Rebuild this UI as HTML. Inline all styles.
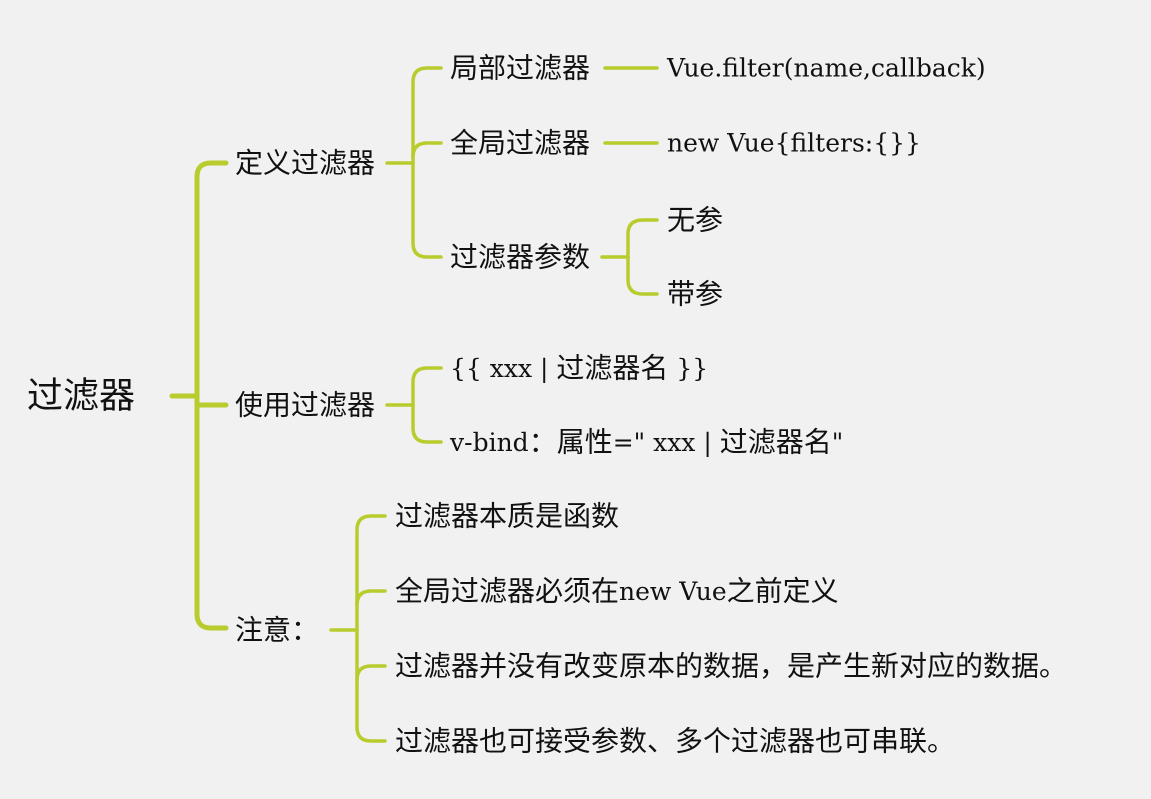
<!DOCTYPE html>
<html><head><meta charset="utf-8"><style>
html,body{margin:0;padding:0;background:#f1f1f1;}
svg{display:block}
text{font-family:"DejaVu Serif","Noto Sans CJK SC",serif;fill:#111;dominant-baseline:central;font-size:28px}
.l{font-size:25px}
</style></head><body>
<svg width="1151" height="799" viewBox="0 0 1151 799" xmlns="http://www.w3.org/2000/svg">
<g fill="none" stroke="#b9cc2e" stroke-linecap="round">
<g stroke-width="5">
<path d="M172 396 H197"/>
<path d="M226 163 H211 Q197 163 197 177 V614 Q197 628 211 628 H226"/>
<path d="M197 405 H226"/>
</g>
<g stroke-width="3.5">
<path d="M387 163 H413"/>
<path d="M441 68 H427 Q413 68 413 82 V243 Q413 257 427 257 H441"/>
<path d="M413 157 Q413 143 427 143 H441"/>
<path d="M605 68 H657"/><path d="M605 143 H657"/>
<path d="M602 257 H628"/>
<path d="M657 220 H643 Q628 220 628 234 V280 Q628 294 643 294 H657"/>
<path d="M387 405 H413"/>
<path d="M441 368 H427 Q413 368 413 382 V428 Q413 442 427 442 H441"/>
<path d="M331 630 H357"/>
<path d="M385 516 H371 Q357 516 357 530 V727 Q357 741 371 741 H385"/>
<path d="M357 605 Q357 591 371 591 H385"/>
<path d="M357 680 Q357 666 371 666 H385"/>
</g>
</g>
<text x="27" y="396" style="font-size:36px">过滤器</text>
<text x="235" y="163">定义过滤器</text>
<text x="235" y="405">使用过滤器</text>
<text x="235" y="630">注意：</text>
<text x="450" y="68">局部过滤器</text>
<text x="450" y="143">全局过滤器</text>
<text x="450" y="257">过滤器参数</text>
<text x="667" y="68" class="l">Vue.filter(name,callback)</text>
<text x="667" y="143" class="l">new Vue{filters:{}}</text>
<text x="667" y="220">无参</text>
<text x="667" y="294">带参</text>
<text x="450" y="368"><tspan class="l">{{ xxx | </tspan>过滤器名<tspan class="l"> }}</tspan></text>
<text x="450" y="442"><tspan class="l">v-bind</tspan>：属性<tspan class="l">=" xxx | </tspan>过滤器名<tspan class="l">"</tspan></text>
<text x="395" y="516">过滤器本质是函数</text>
<text x="395" y="591">全局过滤器必须在<tspan class="l">new Vue</tspan>之前定义</text>
<text x="395" y="666">过滤器并没有改变原本的数据，是产生新对应的数据。</text>
<text x="395" y="741">过滤器也可接受参数、多个过滤器也可串联。</text>
</svg>
</body></html>
